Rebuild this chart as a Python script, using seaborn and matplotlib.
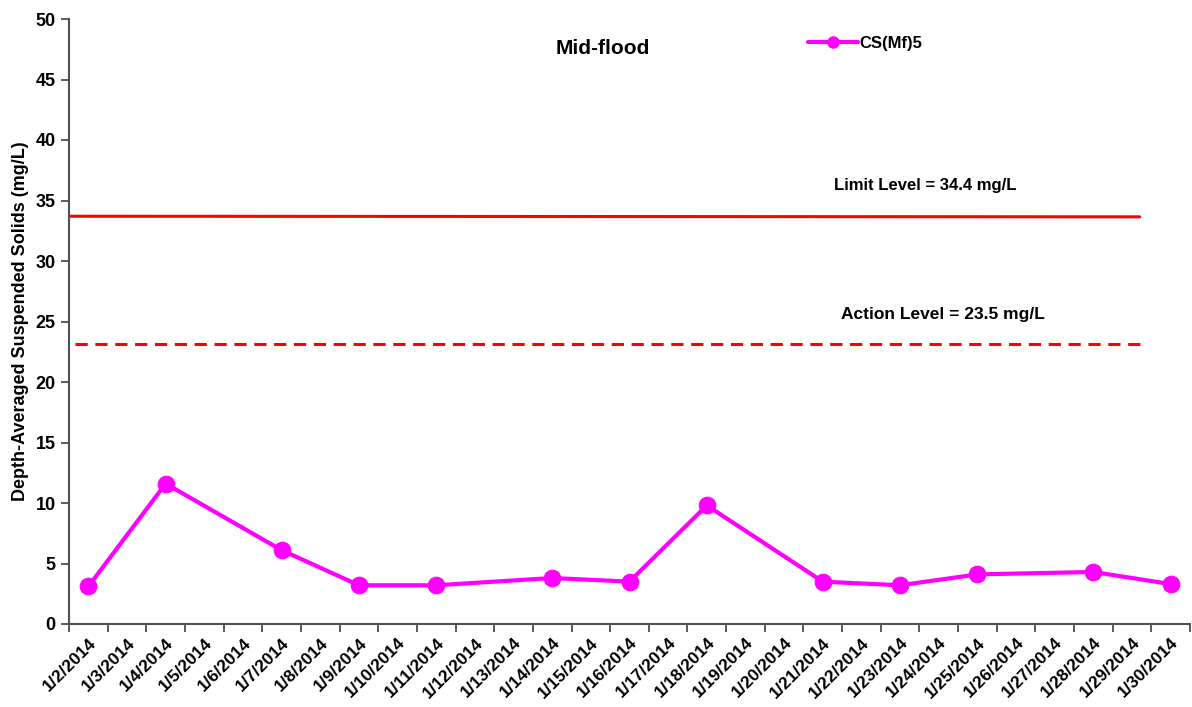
import matplotlib
matplotlib.use("Agg")
import matplotlib.pyplot as plt
from matplotlib.lines import Line2D
from matplotlib.ticker import FixedLocator, NullFormatter
import seaborn as sns
import pandas as pd

categories = [f"1/{d}/2014" for d in range(2, 31)]
sample_dates = ["1/2/2014", "1/4/2014", "1/7/2014", "1/9/2014", "1/11/2014",
                "1/14/2014", "1/16/2014", "1/18/2014", "1/21/2014", "1/23/2014",
                "1/25/2014", "1/28/2014", "1/30/2014"]
values = [3.1, 11.6, 6.1, 3.2, 3.2, 3.8, 3.5, 9.8, 3.5, 3.2, 4.1, 4.3, 3.3]
series_name = "CS(Mf)5"
limit_level = 33.7
action_level = 23.1
limit_label = "Limit Level = 34.4 mg/L"
action_label = "Action Level = 23.5 mg/L"
title = "Mid-flood"
ylabel = "Depth-Averaged Suspended Solids (mg/L)"

sns.set_style("white")
plt.rcParams['font.family'] = ['Liberation Sans', 'DejaVu Sans']
plt.rcParams['text.color'] = 'black'
plt.rcParams['axes.labelcolor'] = 'black'
plt.rcParams['xtick.color'] = 'black'
plt.rcParams['ytick.color'] = 'black'

df = pd.DataFrame({"pos": [categories.index(d) for d in sample_dates], "val": values})

fig = plt.figure(figsize=(11.92, 7.07), dpi=100)
ax = fig.add_axes([69/1192, 1-624/707, (1190-69)/1192, (624-19)/707])

sns.lineplot(data=df, x="pos", y="val", ax=ax, color="#FF00FF", linewidth=3,
             marker="o", markersize=12, markeredgecolor="#FF00FF", legend=False)

ax.plot([-0.5, 27.2], [limit_level, limit_level - 0.05], color="#FF0000", linewidth=2.2)
ax.plot([-0.35, 27.4], [action_level, action_level], color="#FF0000", linewidth=2.2,
        linestyle=(0, (4, 2.5)))

ax.set_xlim(-0.5, len(categories) - 0.5)
ax.set_ylim(0, 50)
ax.set_yticks(range(0, 51, 5))
ax.set_xticks(range(len(categories)))
ax.set_xticklabels(categories, rotation=45, ha="right", rotation_mode="anchor",
                   fontsize=12.5, fontweight="bold")
ax.xaxis.set_minor_locator(FixedLocator([i - 0.5 for i in range(len(categories) + 1)]))
ax.xaxis.set_minor_formatter(NullFormatter())
ax.tick_params(axis="x", which="major", length=0, pad=8)
ax.tick_params(axis="x", which="minor", length=6, width=1.2, color="#404040", direction="out", bottom=True)
ax.tick_params(axis="y", length=6, width=1.2, color="#404040", direction="out", left=True,
               labelsize=13)
for lbl in ax.get_yticklabels():
    lbl.set_fontweight("bold")

for s in ["top", "right"]:
    ax.spines[s].set_visible(False)
for s in ["left", "bottom"]:
    ax.spines[s].set_color("#505050")
    ax.spines[s].set_linewidth(1.5)

ax.set_xlabel("")
ax.set_ylabel(ylabel, fontsize=13, fontweight="bold", labelpad=5)

ax.text(13.3, 47.6, title, fontsize=15, fontweight="bold", ha="center", va="center")
ax.text(21.65, 36.2, limit_label, fontsize=12, fontweight="bold", ha="center", va="center")
ax.text(22.1, 25.6, action_label, fontsize=12.5, fontweight="bold", ha="center", va="center")

handle = Line2D([0], [0], color="#FF00FF", linewidth=3, marker="o", markersize=8)
ax.legend([handle], [series_name], loc="center left", bbox_to_anchor=(0.646, 0.96),
          frameon=False, prop={"weight": "bold", "size": 12}, handlelength=3.0,
          handletextpad=0.05)

fig.savefig("out.png", dpi=100)
